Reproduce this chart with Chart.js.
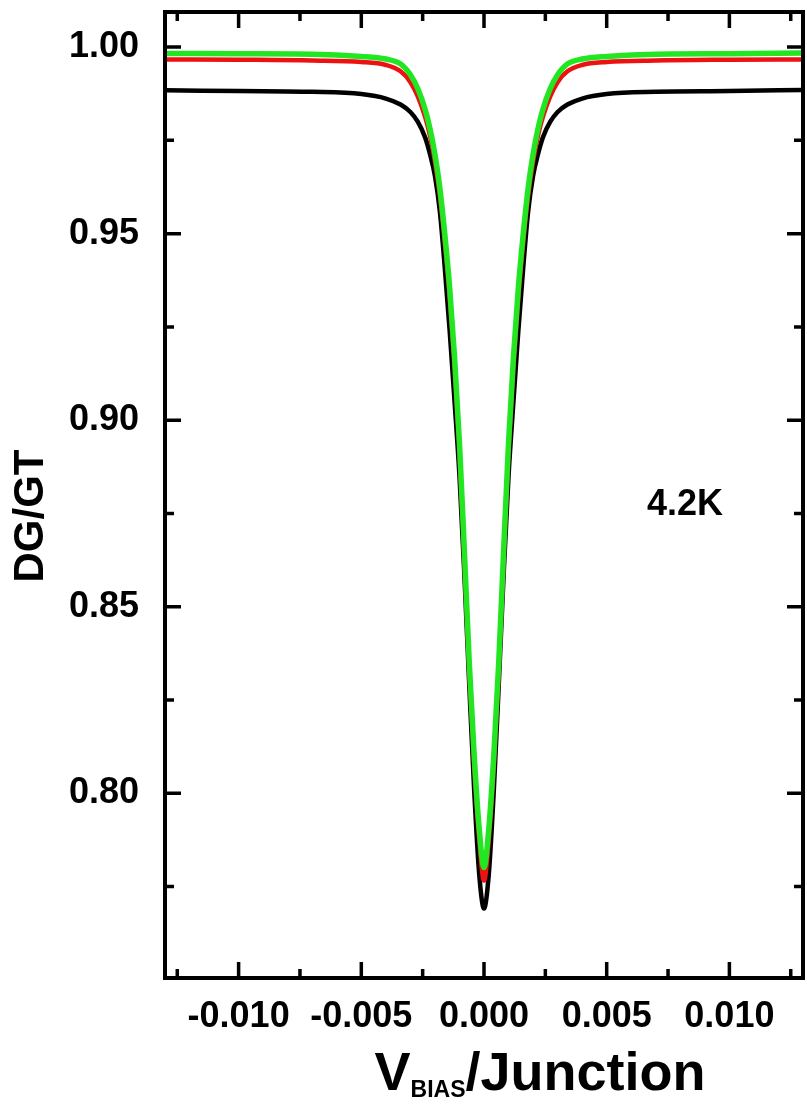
<!DOCTYPE html>
<html>
<head>
<meta charset="utf-8">
<script src="https://cdn.jsdelivr.net/npm/chart.js@4/dist/chart.umd.min.js"></script>
<style>
  html, body { margin: 0; padding: 0; background: #fff; }
  canvas { display: block; }
</style>
</head>
<body>
<canvas id="dipChart" width="807" height="1106"></canvas>
<script>
/* bias voltage per junction (V) */
const vBias = [
  -0.013, -0.010, -0.007, -0.005, -0.004, -0.0034, -0.003, -0.0027, -0.0024, -0.0022,
  -0.002, -0.0018, -0.0016, -0.0014, -0.0012, -0.001, -0.0008, -0.0006, -0.0004, -0.0002,
  0,
  0.0002, 0.0004, 0.0006, 0.0008, 0.001, 0.0012, 0.0014, 0.0016, 0.0018,
  0.002, 0.0022, 0.0024, 0.0027, 0.003, 0.0034, 0.004, 0.005, 0.007, 0.010, 0.013
];

/* normalised conductance DG/GT */
const blackCurve = [
  0.9884, 0.9882, 0.9880, 0.9874, 0.9862, 0.9846, 0.9826, 0.9800, 0.9758, 0.9713,
  0.9655, 0.9560, 0.9410, 0.9240, 0.9050, 0.8851, 0.8585, 0.8289, 0.8008, 0.7787,
  0.7691,
  0.7787, 0.8008, 0.8289, 0.8585, 0.8851, 0.9050, 0.9240, 0.9410, 0.9560,
  0.9655, 0.9713, 0.9758, 0.9800, 0.9826, 0.9846, 0.9862, 0.9874, 0.9880, 0.9882, 0.9885
];
const redCurve = [
  0.9967, 0.9966, 0.9964, 0.9960, 0.9952, 0.9935, 0.9906, 0.9868, 0.9813, 0.9762,
  0.9693, 0.9602, 0.9478, 0.9330, 0.9145, 0.8915, 0.8625, 0.8325, 0.8075, 0.7880,
  0.7766,
  0.7880, 0.8075, 0.8325, 0.8625, 0.8915, 0.9145, 0.9330, 0.9478, 0.9602,
  0.9693, 0.9762, 0.9813, 0.9868, 0.9906, 0.9935, 0.9952, 0.9960, 0.9964, 0.9966, 0.9967
];
const greenCurve = [
  0.9983, 0.9982, 0.9981, 0.9975, 0.9968, 0.9955, 0.9926, 0.9889, 0.9833, 0.9781,
  0.9713, 0.9623, 0.9500, 0.9355, 0.9169, 0.8939, 0.8651, 0.8350, 0.8102, 0.7909,
  0.7801,
  0.7909, 0.8102, 0.8350, 0.8651, 0.8939, 0.9169, 0.9355, 0.9500, 0.9623,
  0.9713, 0.9781, 0.9833, 0.9889, 0.9926, 0.9955, 0.9968, 0.9975, 0.9981, 0.9982, 0.9984
];

/* axes */
const xMajor = [-0.010, -0.005, 0.000, 0.005, 0.010];
const xMinor = [-0.0125, -0.0075, -0.0025, 0.0025, 0.0075, 0.0125];
const yMajor = [0.80, 0.85, 0.90, 0.95, 1.00];
const yMinor = [0.775, 0.825, 0.875, 0.925, 0.975];

const FONT = "'Liberation Sans', Arial, sans-serif";

const pts = ys => vBias.map((x, i) => ({ x, y: ys[i] }));

/* frame with inward ticks on all four sides, plus texts */
const framePlugin = {
  id: 'frame',
  afterDatasetsDraw(chart) {
    const { ctx, chartArea: a, scales: { x, y } } = chart;
    ctx.save();
    ctx.strokeStyle = '#000';
    ctx.lineWidth = 4;
    ctx.lineCap = 'butt';
    ctx.strokeRect(a.left, a.top, a.right - a.left, a.bottom - a.top);

    const tick = (px, len, vertical) => {
      ctx.beginPath();
      if (vertical) {
        ctx.moveTo(px, a.bottom); ctx.lineTo(px, a.bottom - len);
        ctx.moveTo(px, a.top); ctx.lineTo(px, a.top + len);
      } else {
        ctx.moveTo(a.left, px); ctx.lineTo(a.left + len, px);
        ctx.moveTo(a.right, px); ctx.lineTo(a.right - len, px);
      }
      ctx.stroke();
    };
    ctx.lineWidth = 3.5;
    xMajor.forEach(v => tick(x.getPixelForValue(v), 16, true));
    xMinor.forEach(v => tick(x.getPixelForValue(v), 9, true));
    yMajor.forEach(v => tick(y.getPixelForValue(v), 16, false));
    yMinor.forEach(v => tick(y.getPixelForValue(v), 9, false));

    ctx.fillStyle = '#000';

    // y axis title
    ctx.save();
    ctx.translate(31, 516);
    ctx.rotate(-Math.PI / 2);
    ctx.textAlign = 'center';
    ctx.textBaseline = 'middle';
    ctx.font = `bold 42px ${FONT}`;
    ctx.fillText('DG/GT', 0, 0);
    ctx.restore();

    // temperature note
    ctx.textBaseline = 'alphabetic';
    ctx.textAlign = 'left';
    ctx.font = `bold 36px ${FONT}`;
    ctx.fillText('4.2K', 647, 515);

    // x axis title with subscript
    const big = `bold 54px ${FONT}`, small = `bold 23px ${FONT}`;
    const base = 1090;
    ctx.font = big;
    const wV = ctx.measureText('V').width;
    const wJ = ctx.measureText('/Junction').width;
    ctx.font = small;
    const wS = ctx.measureText('BIAS').width;
    const cx = 540 - (wV + wS + wJ) / 2;
    ctx.font = big;
    ctx.fillText('V', cx, base);
    ctx.font = small;
    ctx.fillText('BIAS', cx + wV, base + 7);
    ctx.font = big;
    ctx.fillText('/Junction', cx + wV + wS, base);
    ctx.restore();
  }
};

new Chart(document.getElementById('dipChart'), {
  type: 'scatter',
  data: {
    datasets: [
      { label: 'green', data: pts(greenCurve), borderColor: '#22e622', borderWidth: 5.5, order: 0 },
      { label: 'red', data: pts(redCurve), borderColor: '#ee1111', borderWidth: 4.5, order: 1 },
      { label: 'black', data: pts(blackCurve), borderColor: '#000000', borderWidth: 4.5, order: 2 },
    ].map(d => ({ ...d, showLine: true, pointRadius: 0, cubicInterpolationMode: 'monotone', fill: false })),
  },
  options: {
    responsive: false,
    animation: false,
    devicePixelRatio: 1,
    layout: { padding: { top: 12, right: 4, left: 0, bottom: 0 } },
    plugins: { legend: { display: false }, tooltip: { enabled: false } },
    scales: {
      x: {
        type: 'linear', min: -0.013, max: 0.013,
        grid: { display: false }, border: { display: false },
        afterBuildTicks: s => { s.ticks = xMajor.map(value => ({ value })); },
        afterFit: s => { s.height = 128; s.paddingLeft = 0; s.paddingRight = 0; },
        ticks: {
          padding: 9, color: '#000', maxRotation: 0,
          font: { family: FONT, size: 36, weight: 'bold' },
          callback: v => v.toFixed(3),
        },
      },
      y: {
        min: 0.7505, max: 1.0094,
        grid: { display: false }, border: { display: false },
        afterBuildTicks: s => { s.ticks = yMajor.map(value => ({ value })); },
        afterFit: s => { s.width = 165; s.paddingTop = 0; s.paddingBottom = 0; },
        ticks: {
          padding: 18, color: '#000',
          font: { family: FONT, size: 36, weight: 'bold' },
          callback: v => v.toFixed(2),
        },
      },
    },
  },
  plugins: [framePlugin],
});
</script>
</body>
</html>
